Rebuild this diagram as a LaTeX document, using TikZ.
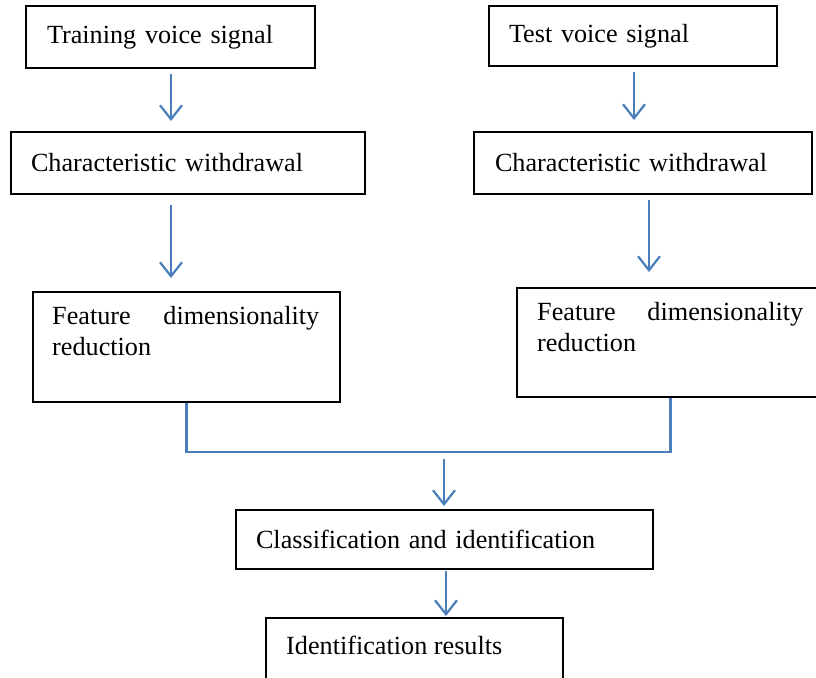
\documentclass[tikz,border=0pt]{standalone}
\usepackage{fontspec}
\setmainfont{Liberation Serif}
\usetikzlibrary{arrows.meta}
\definecolor{conblue}{HTML}{4A7EBB}
\begin{document}
\begin{tikzpicture}[x=1pt,y=-1pt,
  box/.style={draw=black, line width=1.1pt, inner xsep=0pt, inner ysep=0pt, align=left,
    font=\fontsize{26.2}{31}\selectfont},
  txt/.style={inner sep=0pt, align=justify, font=\fontsize{26.2}{31}\selectfont},
  flow/.style={draw=conblue, line width=2.2pt},
  arr/.style={flow, -{Straight Barb[length=14pt,width=22pt,line width=2.2pt]}}]
\useasboundingbox (0,0) rectangle (816,677);
\fill[white] (0,0) rectangle (816,677);
% top row
\node[box, minimum width=289pt, minimum height=62pt, text width=247pt] (t1) at (170.5,37) {Training voice signal};
\node[box, minimum width=288pt, minimum height=60pt, text width=248pt] (t2) at (633,36) {Test voice signal};
% second row
\node[box, minimum width=354pt, minimum height=62pt, text width=314pt] (c1) at (188,163) {Characteristic withdrawal};
\node[box, minimum width=338pt, minimum height=62pt, text width=296pt] (c2) at (643,163) {Characteristic withdrawal};
% feature boxes
\node[draw=black, line width=1.1pt, minimum width=307pt, minimum height=110pt, inner sep=0pt] (f1) at (186.5,347) {};
\node[txt, text width=267pt, anchor=north west] (f1t) at (52,306) {Feature dimensionality reduction};
\node[draw=black, line width=1.1pt, minimum width=307pt, minimum height=109pt, inner sep=0pt] (f2) at (670.5,342.5) {};
\node[txt, text width=266pt, anchor=north west] (f2t) at (537,302) {Feature dimensionality reduction};
% classification
\node[box, minimum width=417pt, minimum height=59pt, text width=377pt] (k) at (444.5,539.5) {Classification and identification};
% results
\node[draw=black, line width=1.1pt, minimum width=297pt, minimum height=80pt, inner sep=0pt] (r) at (414.5,658) {};
\node[txt, anchor=west] (rt) at (286,645) {Identification results};
% arrows
\coordinate (a1s) at (171,74); \coordinate (a1e) at (171,121);
\coordinate (a2s) at (634,72); \coordinate (a2e) at (634,120);
\coordinate (a3s) at (171,205); \coordinate (a3e) at (171,278);
\coordinate (a4s) at (649,200); \coordinate (a4e) at (649,272);
\draw[arr] (a1s) -- (a1e);
\draw[arr] (a2s) -- (a2e);
\draw[arr] (a3s) -- (a3e);
\draw[arr] (a4s) -- (a4e);
\coordinate (m) at (444,452);
\draw[flow] (f1.south) |- (m) -| (f2.south);
\coordinate (a5s) at (444,459); \coordinate (a5e) at (444,506);
\draw[arr] (a5s) -- (a5e);
\coordinate (a6s) at (446,571); \coordinate (a6e) at (446,616);
\draw[arr] (a6s) -- (a6e);
\end{tikzpicture}
\end{document}
